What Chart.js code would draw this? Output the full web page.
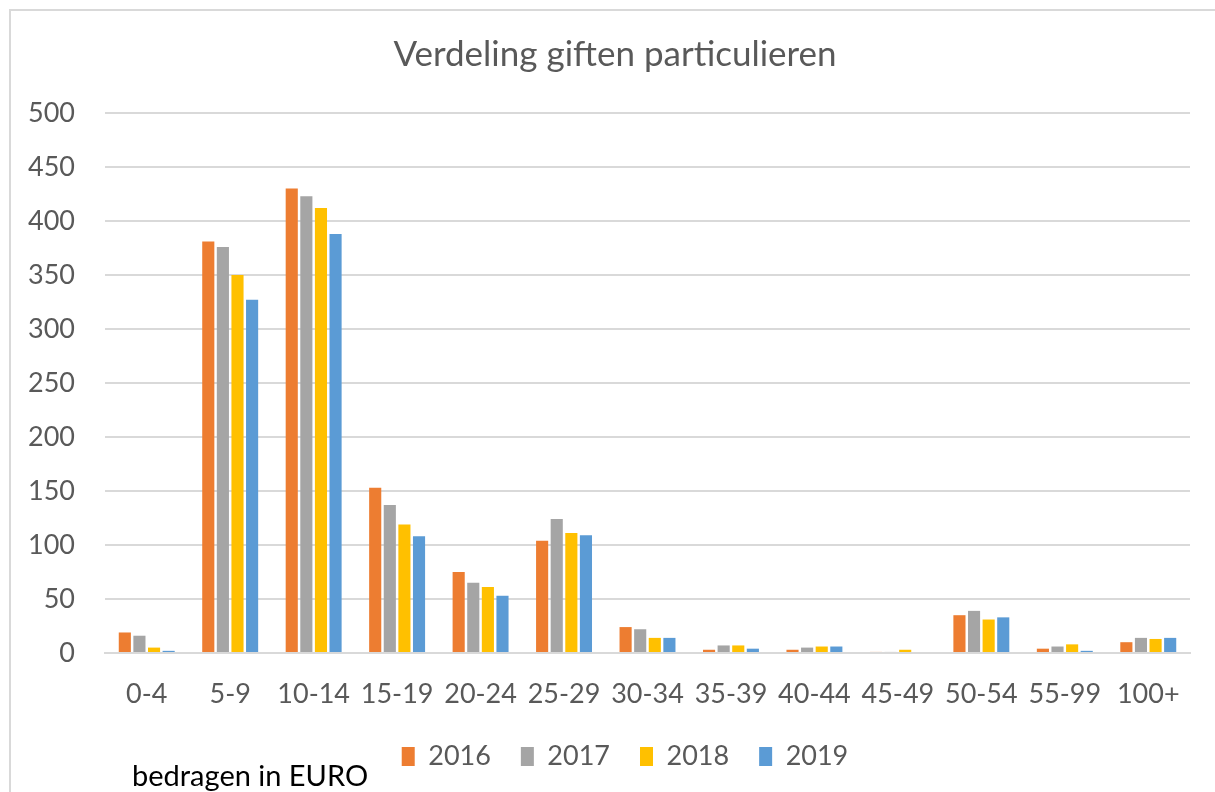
<!DOCTYPE html>
<html>
<head>
<meta charset="utf-8">
<script src="https://cdn.jsdelivr.net/npm/chart.js@4"></script>
<style>
  html, body { margin: 0; padding: 0; background: #fff; }
  #wrap { width: 1215px; height: 792px; position: relative; }
</style>
</head>
<body>
<div id="wrap"><canvas id="chart" width="1215" height="792"></canvas></div>
<script>
// categorieen (bedragen in euro)
const categories = ['0-4', '5-9', '10-14', '15-19', '20-24', '25-29', '30-34', '35-39', '40-44', '45-49', '50-54', '55-99', '100+'];
const years = ['2016', '2017', '2018', '2019'];
const values2016 = [19, 381, 430, 153, 75, 104, 24, 3, 3, 1, 35, 4, 10];
const values2017 = [16, 376, 423, 137, 65, 124, 22, 7, 5, 1, 39, 6, 14];
const values2018 = [5, 350, 412, 119, 61, 111, 14, 7, 6, 3, 31, 8, 13];
const values2019 = [2, 327, 388, 108, 53, 109, 14, 4, 6, 0, 33, 2, 14];
const yTicks = [0, 50, 100, 150, 200, 250, 300, 350, 400, 450, 500];
const colors = ['#ED7D31', '#A5A5A5', '#FFC000', '#5B9BD5'];

const FONT = 'Lato, "Open Sans", sans-serif';
const TXT = '#595959';

// border links/boven + tekst "bedragen in EURO", titel en legenda iets naar rechts
const extras = {
  id: 'extras',
  afterLayout(chart) {
    if (chart.legend) { chart.legend.left += 30; chart.legend.right += 30; }
    if (chart.titleBlock) { chart.titleBlock.left += 20; chart.titleBlock.right += 20; }
  },
  beforeDraw(chart) {
    const c = chart.ctx;
    c.save();
    c.strokeStyle = '#d9d9d9';
    c.lineWidth = 2;
    c.beginPath();
    c.moveTo(10, 792);
    c.lineTo(10, 10);
    c.lineTo(1215, 10);
    c.stroke();
    c.restore();
  },
  afterDraw(chart) {
    const c = chart.ctx;
    c.save();
    c.fillStyle = '#000';
    c.font = '29px ' + FONT;
    c.textBaseline = 'alphabetic';
    c.fillText('bedragen in EURO', 132, 786);
    c.restore();
  }
};

const sets = [values2016, values2017, values2018, values2019];

new Chart(document.getElementById('chart').getContext('2d'), {
  type: 'bar',
  data: {
    labels: categories,
    datasets: years.map((y, i) => ({
      label: y,
      data: sets[i],
      backgroundColor: colors[i],
      borderWidth: 0,
      categoryPercentage: 0.7,
      barPercentage: 0.83
    }))
  },
  options: {
    responsive: false,
    animation: false,
    layout: { padding: { left: 0, right: 25, top: 0, bottom: 12 } },
    plugins: {
      title: {
        display: true,
        text: 'Verdeling giften particulieren',
        color: TXT,
        font: { family: FONT, size: 35, weight: 'normal' },
        padding: { top: 34, bottom: 37 }
      },
      legend: {
        position: 'bottom',
        labels: {
          color: TXT,
          font: { family: FONT, size: 27 },
          boxWidth: 13,
          boxHeight: 19,
          padding: 30
        }
      },
      tooltip: { enabled: false }
    },
    scales: {
      x: {
        grid: { display: false },
        border: { color: '#d9d9d9', width: 2 },
        ticks: { color: TXT, font: { family: FONT, size: 27 }, padding: 17, maxRotation: 0 },
        afterFit(s) { s.height = 60; }
      },
      y: {
        min: 0,
        max: 500,
        afterBuildTicks(s) { s.ticks = yTicks.map(v => ({ value: v })); },
        grid: { color: '#d9d9d9', lineWidth: 2, drawTicks: false },
        border: { display: false },
        ticks: { color: TXT, font: { family: FONT, size: 27 }, padding: 30 },
        afterFit(s) { s.width = 105; }
      }
    }
  },
  plugins: [extras]
});
</script>
</body>
</html>
